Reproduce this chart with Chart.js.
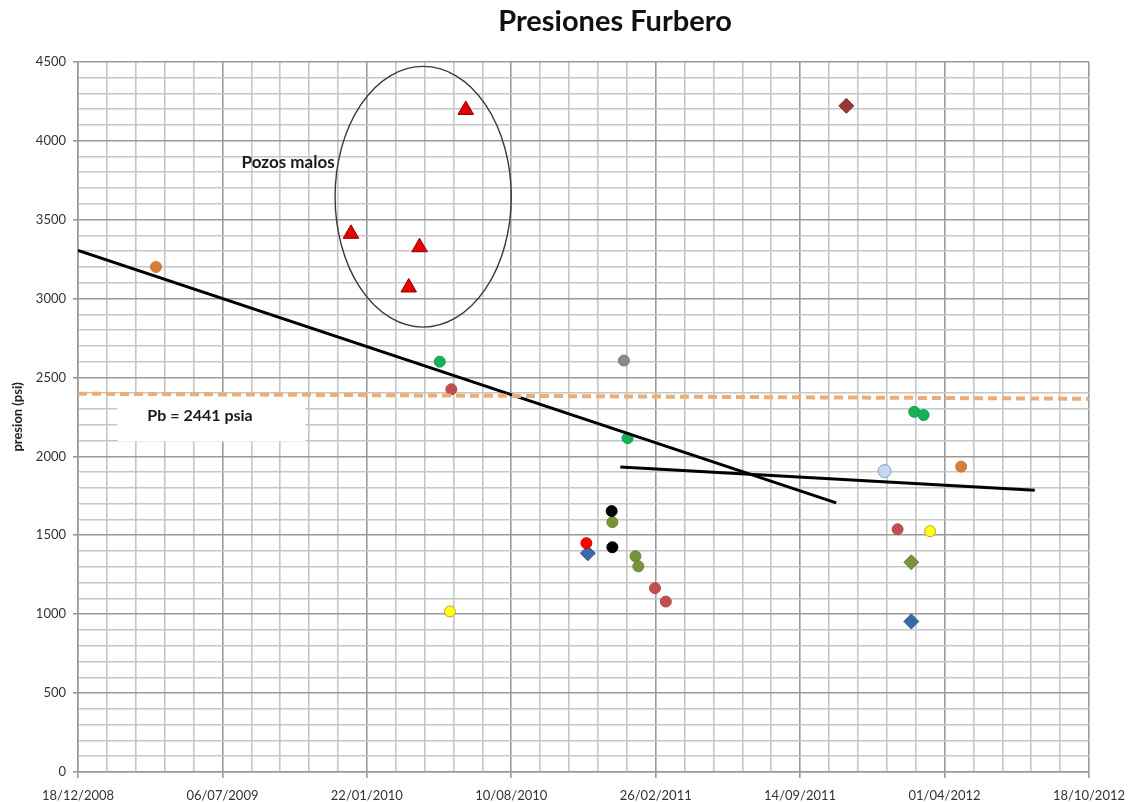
<!DOCTYPE html>
<html>
<head>
<meta charset="utf-8">
<script src="https://cdn.jsdelivr.net/npm/chart.js@4.4.1/dist/chart.umd.min.js"></script>
<style>
  html, body { margin: 0; padding: 0; background: #fff; }
  #wrap { width: 1135px; height: 802px; }
</style>
</head>
<body>
<div id="wrap"><canvas id="chart"></canvas></div>
<script>
// eje x: dias desde 18/12/2008, cada 40 dias una linea, cada 200 una etiqueta
const inicio = '2008-12-18';
const diasTotales = 1400;
const pasoMenorX = 40;
const pasoMayorX = 200;
// eje y
const presionMax = 4500;
const pasoMenorY = 100;
const pasoMayorY = 500;

// pozos malos (triangulos rojos)
const malosFechas = ['2009-12-31', '2010-03-21', '2010-04-05', '2010-06-08'];
const malosPresion = [3410, 3070, 3325, 4195];

// puntos por pozo
const naranjaFechas = ['2009-04-05', '2012-04-24'];
const naranjaPresion = [3200, 1935];
const verdeFechas = ['2010-05-03', '2011-01-18', '2012-02-19', '2012-03-03'];
const verdePresion = [2600, 2115, 2282, 2262];
const rosaFechas = ['2010-05-19', '2011-02-25', '2011-03-12', '2012-01-27'];
const rosaPresion = [2425, 1165, 1080, 1538];
const amarilloFechas = ['2010-05-17', '2012-03-12'];
const amarilloPresion = [1017, 1526];
const grisFechas = ['2011-01-13'];
const grisPresion = [2607];
const negroFechas = ['2010-12-27', '2010-12-28'];
const negroPresion = [1653, 1424];
const olivaFechas = ['2010-12-28', '2011-01-29', '2011-02-02'];
const olivaPresion = [1583, 1367, 1303];
const rojoFechas = ['2010-11-22'];
const rojoPresion = [1450];
const celesteFechas = ['2012-01-09'];
const celestePresion = [1907];
// rombos
const azulFechas = ['2010-11-24', '2012-02-15'];
const azulPresion = [1386, 954];
const cafeFechas = ['2011-11-17'];
const cafePresion = [4221];
const olivaRomboFechas = ['2012-02-15'];
const olivaRomboPresion = [1329];

// lineas de tendencia y presion de burbuja
const tendencia1Fechas = ['2008-12-18', '2011-11-03'];
const tendencia1Presion = [3305, 1705];
const tendencia2Fechas = ['2011-01-08', '2012-08-04'];
const tendencia2Presion = [1933, 1786];
const pbFechas = ['2008-12-18', '2012-10-18'];
const pbPresion = [2397, 2365];

// anotaciones
const elipseCentro = ['2010-04-10', 3645];
const elipseRadio = [122, 826]; // dias, psi
const textoMalos = ['Pozos malos', '2009-10-05', 3860];
const cajaPb = ['2009-02-11', '2009-10-29', 2390, 2095];
const textoPb = ['Pb = 2441 psia', '2009-06-05', 2255];

const t0 = Date.parse(inicio);
function dia(f) { return (Date.parse(f) - t0) / 864e5; }
function puntos(fechas, valores) {
    return fechas.map((f, i) => ({x: dia(f), y: valores[i]}));
}
function fecha(v) {
    const d = new Date(t0 + v * 864e5);
    const dd = String(d.getUTCDate()).padStart(2, '0');
    const mm = String(d.getUTCMonth() + 1).padStart(2, '0');
    return dd + '/' + mm + '/' + d.getUTCFullYear();
}

function serie(fechas, valores, fondo, borde, estilo, radio) {
    return {
        data: puntos(fechas, valores),
        backgroundColor: fondo,
        borderColor: borde,
        borderWidth: 1,
        pointStyle: estilo,
        pointRadius: radio,
        pointHoverRadius: radio
    };
}
function linea(fechas, valores, color, ancho, guiones) {
    return {
        data: puntos(fechas, valores),
        showLine: true,
        borderColor: color,
        borderWidth: ancho,
        borderDash: guiones,
        pointRadius: 0,
        fill: false
    };
}

const anotaciones = {
    id: 'anotaciones',
    afterLayout(chart) {
        // el titulo va algo a la derecha del centro
        chart.titleBlock.left += 140;
    },
    beforeDatasetsDraw(chart) {
        const {ctx, scales: {x, y}} = chart;
        ctx.save();
        // caja blanca de Pb
        const bx0 = x.getPixelForValue(dia(cajaPb[0]));
        const bx1 = x.getPixelForValue(dia(cajaPb[1]));
        const by0 = y.getPixelForValue(cajaPb[2]);
        const by1 = y.getPixelForValue(cajaPb[3]);
        ctx.fillStyle = '#fff';
        ctx.fillRect(bx0, by0, bx1 - bx0, by1 - by0);
        ctx.fillStyle = '#1a1a1a';
        ctx.textAlign = 'center';
        ctx.textBaseline = 'middle';
        ctx.font = 'bold 16px Lato';
        ctx.fillText(textoPb[0], x.getPixelForValue(dia(textoPb[1])), y.getPixelForValue(textoPb[2]));
        // elipse de pozos malos
        const cx = x.getPixelForValue(dia(elipseCentro[0]));
        const cy = y.getPixelForValue(elipseCentro[1]);
        const rx = x.getPixelForValue(dia(elipseCentro[0]) + elipseRadio[0]) - cx;
        const ry = cy - y.getPixelForValue(elipseCentro[1] + elipseRadio[1]);
        ctx.beginPath();
        ctx.ellipse(cx, cy, rx, ry, 0, 0, 2 * Math.PI);
        ctx.strokeStyle = '#3a3a3a';
        ctx.lineWidth = 1.4;
        ctx.stroke();
        ctx.font = 'bold 17px Lato';
        ctx.fillText(textoMalos[0], x.getPixelForValue(dia(textoMalos[1])), y.getPixelForValue(textoMalos[2]));
        ctx.restore();
    }
};

new Chart(document.getElementById('chart'), {
    type: 'scatter',
    data: {
        datasets: [
            linea(pbFechas, pbPresion, '#efac76', 4, [9, 5]),
            linea(tendencia1Fechas, tendencia1Presion, '#000', 3, []),
            linea(tendencia2Fechas, tendencia2Presion, '#000', 3, []),
            serie(malosFechas, malosPresion, '#e60000', '#8b0000', 'triangle', 9),
            serie(naranjaFechas, naranjaPresion, '#d47f3c', '#c9773a', 'circle', 5.5),
            serie(verdeFechas, verdePresion, '#15b158', '#10a050', 'circle', 5.5),
            serie(rosaFechas, rosaPresion, '#c0504d', '#b04744', 'circle', 5.5),
            serie(amarilloFechas, amarilloPresion, '#ffff1a', '#c9a227', 'circle', 5.5),
            serie(grisFechas, grisPresion, '#8a8a8a', '#7a7a7a', 'circle', 5.5),
            serie(negroFechas, negroPresion, '#000', '#000', 'circle', 5.5),
            serie(olivaFechas, olivaPresion, '#77933c', '#6b8535', 'circle', 5.5),
            serie(rojoFechas, rojoPresion, '#ff0000', '#e00000', 'circle', 5.5),
            serie(celesteFechas, celestePresion, '#c6d9f1', '#7f9fc8', 'circle', 6.5),
            serie(azulFechas, azulPresion, '#3a6aa6', '#2f5a90', 'rectRot', 7.5),
            serie(cafeFechas, cafePresion, '#953735', '#803030', 'rectRot', 7.5),
            serie(olivaRomboFechas, olivaRomboPresion, '#77933c', '#6b8535', 'rectRot', 7.5)
        ]
    },
    options: {
        responsive: true,
        maintainAspectRatio: false,
        animation: false,
        layout: { padding: { top: 0, right: 45, bottom: 0, left: 0 } },
        plugins: {
            legend: { display: false },
            tooltip: { enabled: false },
            title: {
                display: true,
                text: 'Presiones Furbero',
                color: '#111',
                font: { family: 'Lato', size: 29, weight: 'bold' },
                padding: { top: 4, bottom: 23 }
            }
        },
        scales: {
            x: {
                type: 'linear',
                min: 0,
                max: diasTotales,
                afterFit: s => { s.height = 30; },
                border: { color: '#999', width: 1.5 },
                grid: {
                    color: c => c.tick && c.tick.value % pasoMayorX === 0 ? '#9a9a9a' : '#c6c6c6',
                    lineWidth: 1.6,
                    tickColor: c => c.tick && c.tick.value % pasoMayorX === 0 ? '#999' : 'rgba(0,0,0,0)',
                    tickLength: 6
                },
                ticks: {
                    stepSize: pasoMenorX,
                    autoSkip: false,
                    maxRotation: 0,
                    padding: 10,
                    color: '#333',
                    font: { family: 'Lato', size: 13 },
                    callback: v => v % pasoMayorX === 0 ? fecha(v) : ''
                }
            },
            y: {
                min: 0,
                max: presionMax,
                afterFit: s => { s.width = 78; },
                border: { color: '#999', width: 1.5 },
                grid: {
                    color: c => c.tick && c.tick.value % pasoMayorY === 0 ? '#9a9a9a' : '#c6c6c6',
                    lineWidth: 1.6,
                    tickColor: c => c.tick && c.tick.value % pasoMayorY === 0 ? '#999' : 'rgba(0,0,0,0)',
                    tickLength: 5
                },
                ticks: {
                    stepSize: pasoMenorY,
                    autoSkip: false,
                    padding: 7,
                    color: '#333',
                    font: { family: 'Lato', size: 13 },
                    callback: v => v % pasoMayorY === 0 ? v : ''
                },
                title: {
                    display: true,
                    text: 'presion (psi)',
                    color: '#222',
                    font: { family: 'Lato', size: 13, weight: 'bold' },
                    padding: { top: 10, bottom: 0 }
                }
            }
        }
    },
    plugins: [anotaciones]
});
</script>
</body>
</html>
